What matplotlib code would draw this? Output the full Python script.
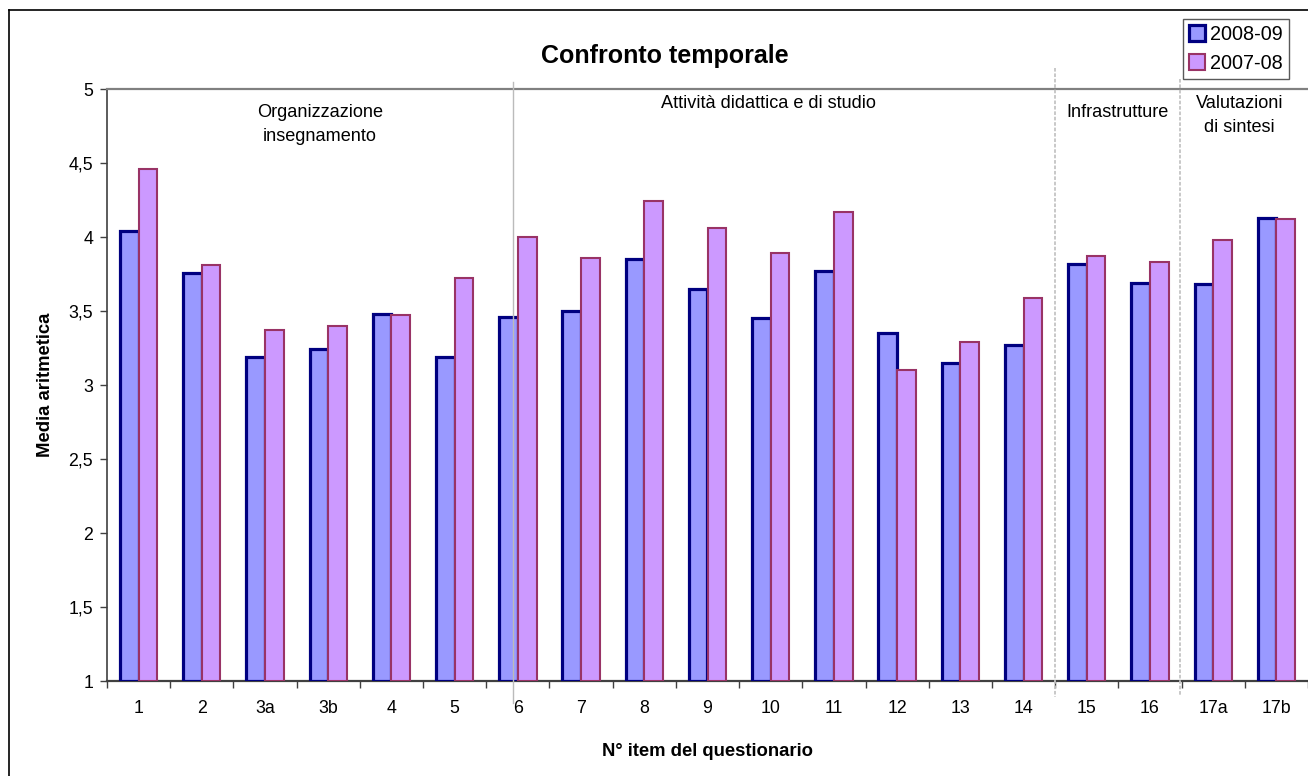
import matplotlib
matplotlib.use('Agg')
import matplotlib.pyplot as plt
from matplotlib.patches import Patch
from matplotlib.lines import Line2D
import numpy as np

# ----------------------------------------------------------------------
# Data
# ----------------------------------------------------------------------
items = ['1', '2', '3a', '3b', '4', '5', '6', '7', '8', '9', '10', '11',
         '12', '13', '14', '15', '16', '17a', '17b']
media_2008_09 = [4.04, 3.76, 3.19, 3.24, 3.48, 3.19, 3.46, 3.50, 3.85, 3.65,
                 3.45, 3.77, 3.35, 3.15, 3.27, 3.82, 3.69, 3.68, 4.13]
media_2007_08 = [4.46, 3.81, 3.37, 3.40, 3.47, 3.72, 4.00, 3.86, 4.24, 4.06,
                 3.89, 4.17, 3.10, 3.29, 3.59, 3.87, 3.83, 3.98, 4.12]
series_names = ['2008-09', '2007-08']

group_labels = ['Organizzazione\ninsegnamento', 'Attività didattica e di studio',
                'Infrastrutture', 'Valutazioni\ndi sintesi']
y_ticks = [1, 1.5, 2, 2.5, 3, 3.5, 4, 4.5, 5]
y_tick_labels = ['1', '1,5', '2', '2,5', '3', '3,5', '4', '4,5', '5']


def main():
    plt.rcParams['font.family'] = ['Liberation Sans', 'DejaVu Sans']

    W, H = 1308, 776
    fig = plt.figure(figsize=(W / 100, H / 100), dpi=100)
    fig.patch.set_facecolor('white')

    # outer chart border (only top and left are visible in the reference)
    fig.add_artist(Line2D([9 / W, 1.0], [1 - 10 / H, 1 - 10 / H], color='black', lw=1.2))
    fig.add_artist(Line2D([9 / W, 9 / W], [0.0, 1 - 10 / H], color='black', lw=1.2))

    ax = fig.add_axes([107 / W, 1 - 681 / H, (W - 107) / W, (681 - 89) / H])

    x = np.arange(len(items))
    bw = 0.295
    ax.bar(x - bw / 2, np.array(media_2008_09) - 1, bw, bottom=1,
           facecolor='#9999FF', edgecolor='#000080', linewidth=2.3, zorder=3)
    ax.bar(x + bw / 2, np.array(media_2007_08) - 1, bw, bottom=1,
           facecolor='#CC99FF', edgecolor='#993366', linewidth=1.5, zorder=3)

    ax.set_xlim(-0.5, len(items) - 0.5)
    ax.set_ylim(1, 5)

    ax.set_yticks(y_ticks)
    ax.set_yticklabels(y_tick_labels, fontsize=12.8)
    ax.set_xticks(x)
    ax.set_xticklabels(items, fontsize=12.8)
    ax.set_xticks(np.arange(-0.5, len(items), 1), minor=True)
    ax.tick_params(axis='x', which='major', length=0, pad=14)
    ax.tick_params(axis='x', which='minor', length=5, width=1, color='#404040')
    ax.tick_params(axis='y', length=5, width=1, color='#404040', pad=5)

    for side in ['left', 'bottom', 'top']:
        ax.spines[side].set_color('#404040')
    ax.spines['top'].set_color('#808080')
    ax.spines['top'].set_linewidth(1.6)
    ax.spines['bottom'].set_linewidth(1.6)
    ax.spines['left'].set_linewidth(1.2)
    ax.spines['right'].set_visible(False)

    # group separators
    xt = ax.get_xaxis_transform()
    ax.plot([5.916, 5.916], [1.012, -0.037], color='#BBBBBB', lw=1.0, transform=xt,
            clip_on=False, zorder=4)
    ax.plot([14.5, 14.5], [1.035, -0.027], color='#C4C4C4', lw=1.3, ls=(0, (2, 1)),
            transform=xt, clip_on=False, zorder=4)
    ax.plot([16.47, 16.47], [1.017, -0.025], color='#C4C4C4', lw=1.3, ls=(0, (2, 1)),
            transform=xt, clip_on=False, zorder=4)

    group_x = [2.87, 9.96, 15.48, 17.42]
    group_y = [4.76, 4.90, 4.84, 4.82]
    for lab, gx, gy in zip(group_labels, group_x, group_y):
        ax.text(gx, gy, lab, ha='center', va='center', fontsize=13.1, linespacing=1.5)

    fig.text(665 / W, 1 - 56 / H, 'Confronto temporale', ha='center', va='center',
             fontsize=18, fontweight='bold')
    ax.set_ylabel('Media aritmetica', fontsize=13.3, fontweight='bold', va='center')
    ax.yaxis.set_label_coords((46 - 107) / (W - 107), 0.5)
    ax.set_xlabel('N° item del questionario', fontsize=13.3, fontweight='bold', va='center')
    ax.xaxis.set_label_coords((708 - 107) / (W - 107), (681 - 752) / (681 - 89))

    handles = [Patch(facecolor='#9999FF', edgecolor='#000080', linewidth=2.3),
               Patch(facecolor='#CC99FF', edgecolor='#993366', linewidth=1.5)]
    leg = fig.legend(handles, series_names, loc='upper left',
                     bbox_to_anchor=(1183 / W, 1 - 19 / H), fontsize=14.3,
                     frameon=True, fancybox=False, edgecolor='#303030',
                     handlelength=0.8, handleheight=0.8, handletextpad=0.25,
                     borderpad=0.3, labelspacing=0.5, borderaxespad=0)
    leg.get_frame().set_linewidth(1.0)

    fig.savefig('out.png', dpi=100, facecolor='white')
    plt.close(fig)


if __name__ == "__main__":
    main()
